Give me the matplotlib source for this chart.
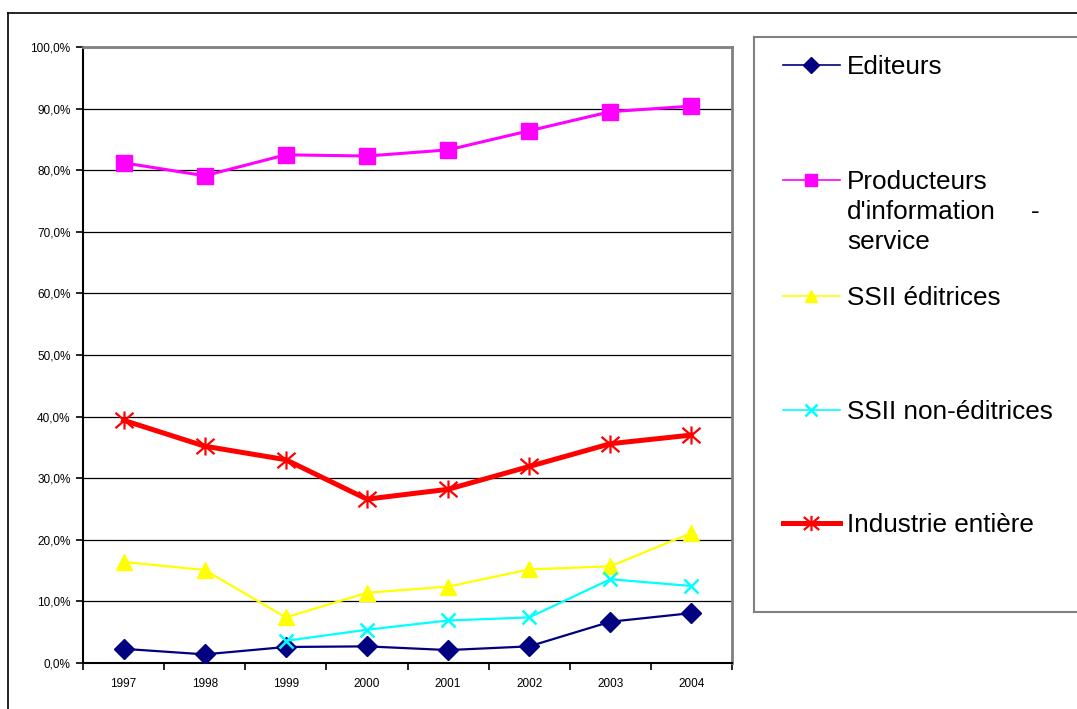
import matplotlib
matplotlib.use("Agg")
import matplotlib.pyplot as plt
from matplotlib.lines import Line2D
from matplotlib.path import Path

plt.rcParams['font.family'] = ['Liberation Sans', 'DejaVu Sans']

years = ['1997', '1998', '1999', '2000', '2001', '2002', '2003', '2004']
editeurs = [2.3, 1.4, 2.6, 2.7, 2.1, 2.7, 6.7, 8.1]
producteurs = [81.2, 79.1, 82.5, 82.3, 83.3, 86.4, 89.5, 90.4]
ssii_editrices = [16.4, 15.1, 7.4, 11.4, 12.4, 15.2, 15.7, 21.1]
ssii_non_editrices = [None, None, 3.6, 5.4, 6.9, 7.4, 13.6, 12.5]
industrie = [39.4, 35.2, 33.0, 26.6, 28.2, 31.9, 35.6, 37.0]

y_ticks = [0, 10, 20, 30, 40, 50, 60, 70, 80, 90, 100]
y_labels = ['0,0%', '10,0%', '20,0%', '30,0%', '40,0%', '50,0%',
            '60,0%', '70,0%', '80,0%', '90,0%', '100,0%']

# Excel-style asterisk: an X plus a vertical bar
asterisk = Path([(-1, -0.85), (1, 0.85), (-1, 0.85), (1, -0.85), (0, -1), (0, 1)],
                [Path.MOVETO, Path.LINETO, Path.MOVETO, Path.LINETO,
                 Path.MOVETO, Path.LINETO])

series = [
    (['Editeurs'], editeurs, '#000080', 'D', 1.6, 10, 1),
    (['Producteurs', "d'information", 'service'], producteurs, '#ff00ff', 's', 2.2, 11, 1),
    (['SSII éditrices'], ssii_editrices, '#ffff00', '^', 1.6, 11, 1),
    (['SSII non-éditrices'], ssii_non_editrices, '#00ffff', 'x', 1.6, 10, 1.8),
    (['Industrie entière'], industrie, '#ff0000', asterisk, 3.6, 13, 1.6),
]

fig = plt.figure(figsize=(10.77, 7.09), dpi=100)
W, H = 1077, 709

# outer chart frame (top and left edges visible)
fig.add_artist(Line2D([8 / W, 1.0], [1 - 13 / H, 1 - 13 / H], color='black', lw=1.2))
fig.add_artist(Line2D([8 / W, 8 / W], [0.0, 1 - 13 / H], color='black', lw=1.2))

ax = fig.add_axes([83 / W, 1 - 663 / H, (732 - 83) / W, (663 - 47) / H])
x = list(range(len(years)))
for label, vals, color, marker, lw, ms, mew in series:
    xs = [i for i, v in zip(x, vals) if v is not None]
    ys = [v for v in vals if v is not None]
    ax.plot(xs, ys, color=color, lw=lw, marker=marker, ms=ms,
            markeredgewidth=mew, markeredgecolor=color, markerfacecolor=color,
            zorder=3)

ax.set_xlim(-0.5, len(years) - 0.5)
ax.set_ylim(0, 100)
ax.set_yticks(y_ticks)
ax.set_yticklabels(y_labels, fontsize=8.5)
ax.set_xticks(x)
ax.set_xticklabels(years, fontsize=8.5)
ax.set_xticks([i - 0.5 for i in range(len(years) + 1)], minor=True)
ax.tick_params(axis='x', which='major', length=0, pad=11)
ax.tick_params(axis='x', which='minor', length=5, width=1.2, direction='out')
ax.tick_params(axis='y', length=5, width=1.2, direction='out', pad=4)
ax.grid(axis='y', color='black', lw=0.9)
ax.set_axisbelow(True)
for s in ['left', 'bottom']:
    ax.spines[s].set_color('black')
    ax.spines[s].set_linewidth(1.5)
for s in ['top', 'right']:
    ax.spines[s].set_color('#808080')
    ax.spines[s].set_linewidth(2)

# legend box drawn by hand to match Excel layout
lx0, ly0, lx1, ly1 = 754, 37, 1090, 612
lax = fig.add_axes([lx0 / W, 1 - ly1 / H, (lx1 - lx0) / W, (ly1 - ly0) / H])
lax.set_xlim(0, lx1 - lx0)
lax.set_ylim(ly1 - ly0, 0)
lax.set_xticks([])
lax.set_yticks([])
for s in lax.spines.values():
    s.set_color('#808080')
    s.set_linewidth(1.5)

entry_y = [28, 143, 259, 373, 486]
for (lines, vals, color, marker, lw, ms, mew), yy in zip(series, entry_y):
    lax.plot([29, 86], [yy, yy], color=color, lw=1.2 if lw < 3 else lw)
    lax.plot([57], [yy], color=color, marker=marker, ms=ms * 0.85,
             markeredgewidth=mew, markeredgecolor=color, markerfacecolor=color)
    for k, line in enumerate(lines):
        lax.text(93, yy + 2 + 30 * k, line, fontsize=18.8, va='center', ha='left')
lax.text(277, 143 + 2 + 30, '-', fontsize=18.8, va='center', ha='left')

fig.savefig('out.png', dpi=100)
